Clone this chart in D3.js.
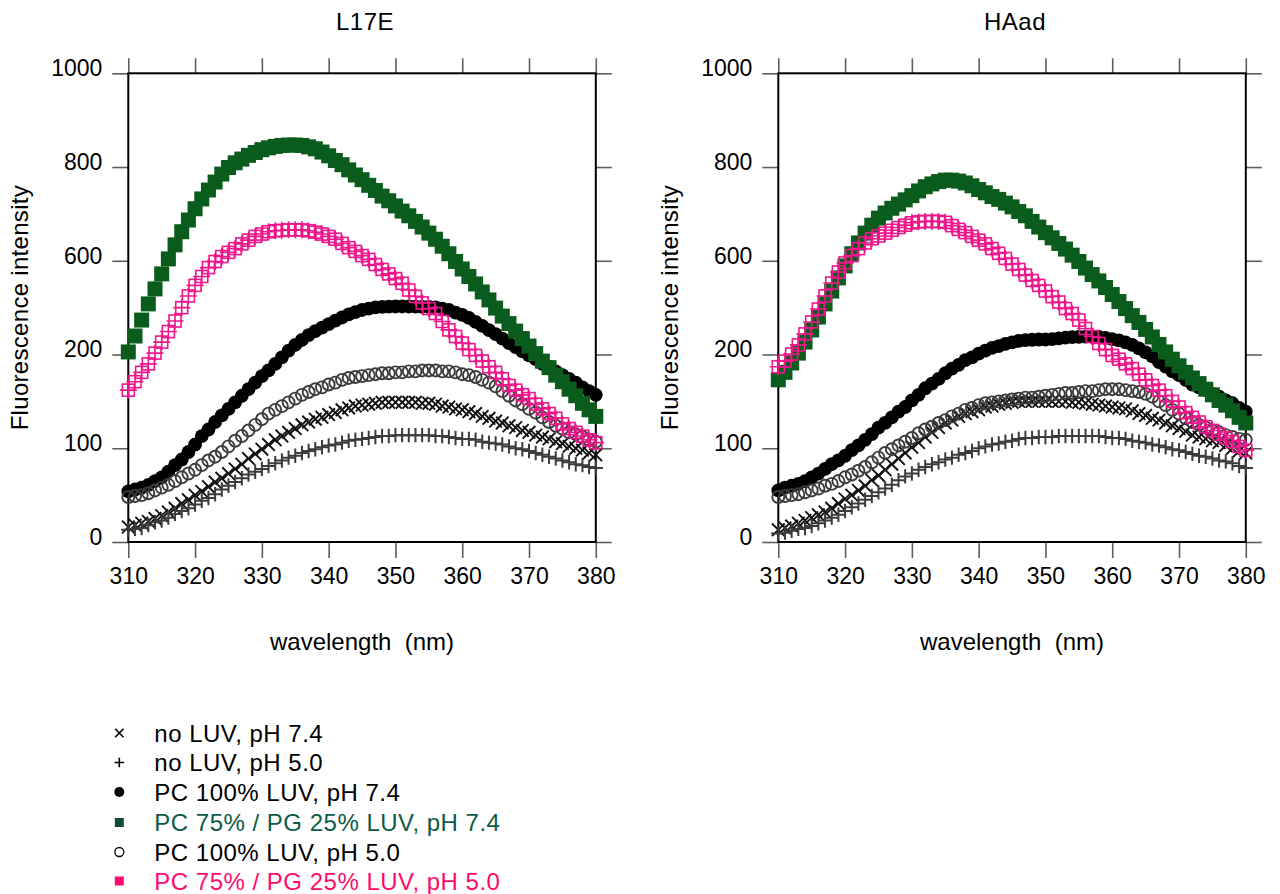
<!DOCTYPE html>
<html><head><meta charset="utf-8">
<script src="https://cdn.jsdelivr.net/npm/d3@7/dist/d3.min.js"></script>
<style>
body{margin:0;background:#fff}
text{font-family:"Liberation Sans",Arial,Helvetica,sans-serif;fill:#000}
</style>
</head><body>
<svg id="c" width="1280" height="894"></svg>
<script>
// ---------- data ----------
const wavelengths = [310,311,312,313,314,315,316,317,318,319,320,321,322,323,324,325,326,327,328,329,330,331,332,333,334,335,336,337,338,339,340,341,342,343,344,345,346,347,348,349,350,351,352,353,354,355,356,357,358,359,360,361,362,363,364,365,366,367,368,369,370,371,372,373,374,375,376,377,378,379,380];
const xTicks = [310,320,330,340,350,360,370,380];
const yTicks = [0,100,200,600,800,1000];
const yTickLabels = ["0","100","200","600","800","1000"];
const panelTitles = ["L17E","HAad"];
const seriesNames = ["no LUV, pH 7.4","no LUV, pH 5.0","PC 100% LUV, pH 7.4","PC 75% / PG 25% LUV, pH 7.4","PC 100% LUV, pH 5.0","PC 75% / PG 25% LUV, pH 5.0"];

// L17E
const l17e_noLUV74 = [16,18,20,22,25,28,32,36,41,45,50,54,59,64,68,73,78,83,89,94,99,104,109,113,117,121,125,128,131,133,136,138,141,143,145,146,147,148,149,149,149,149,149,149,148,148,147,145,144,142,141,139,137,134,132,129,127,124,122,119,117,114,112,110,107,105,102,100,98,95,93];
const l17e_noLUV50 = [13,14,15,18,21,23,26,30,33,36,40,44,47,51,56,60,64,68,72,75,78,81,84,87,90,92,95,97,99,101,103,104,106,108,109,110,111,112,113,113,114,114,114,114,114,114,113,113,112,111,110,110,109,107,106,105,104,102,100,99,97,95,93,91,89,87,85,83,82,80,79];
const l17e_PC74 = [54,56,58,61,65,69,75,82,88,96,104,113,120,128,135,142,149,156,163,170,177,183,190,197,217,241,262,283,300,315,330,345,358,371,381,390,396,401,403,404,405,405,405,404,403,403,401,396,390,379,369,356,339,322,304,287,268,249,232,213,199,195,190,187,182,178,174,170,165,161,157];
const l17e_PG74 = [211,279,347,416,480,544,604,634,662,687,711,732,751,768,785,799,809,817,825,831,837,841,844,846,847,847,846,843,839,832,824,814,805,794,783,773,761,750,738,728,717,706,696,684,672,659,646,631,615,597,565,533,501,467,433,398,364,332,300,268,236,204,193,186,178,171,163,156,148,141,134];
const l17e_PC50 = [48,49,50,52,55,58,61,65,69,73,77,82,87,91,96,102,108,113,119,125,131,137,141,145,149,153,157,160,163,165,168,170,173,175,176,177,178,179,180,180,181,181,182,182,183,183,183,182,182,181,179,178,176,173,170,166,161,156,151,147,142,138,133,128,124,121,117,115,112,109,107];
const l17e_PG50 = [162,171,181,190,206,253,298,343,400,450,495,533,571,597,609,618,626,636,644,652,657,662,664,665,666,666,666,664,661,657,652,646,637,628,620,611,603,584,563,544,524,504,475,448,420,396,375,341,305,277,249,221,199,193,187,181,174,167,162,157,153,147,142,137,132,126,121,117,113,109,106];

// HAad
const haad_noLUV74 = [13,15,17,20,23,26,29,32,36,41,46,50,55,60,66,71,77,83,89,95,101,106,112,117,122,127,130,134,137,139,141,144,145,147,148,149,150,150,150,150,150,150,150,150,149,149,148,147,146,145,144,143,142,140,137,135,132,130,127,124,121,118,114,112,110,108,106,103,100,97,95];
const haad_noLUV50 = [9,10,12,14,15,17,20,23,26,29,33,37,41,45,49,53,57,61,66,70,73,77,80,83,85,88,90,93,95,97,100,102,104,105,107,108,110,111,111,112,112,112,113,113,113,113,113,113,113,112,111,111,110,108,107,106,104,103,101,99,98,96,94,92,91,89,87,86,84,81,79];
const haad_PC74 = [55,58,60,62,65,69,73,78,83,87,92,98,103,109,115,122,127,133,139,144,151,157,164,169,174,180,185,189,194,197,204,217,228,236,245,252,258,261,263,264,264,266,269,272,274,275,276,276,275,271,266,260,252,241,226,209,198,192,187,182,178,173,168,165,162,158,155,151,148,143,139];
const haad_PG74 = [173,181,191,206,253,305,360,416,471,527,578,615,638,659,676,691,702,712,721,730,739,749,758,764,769,772,772,770,766,760,752,745,737,731,723,715,705,696,684,672,660,649,637,625,612,597,569,541,514,486,456,426,396,366,337,307,275,243,211,195,188,181,175,169,163,157,151,146,140,133,127];
const haad_PC50 = [48,49,50,51,53,55,57,60,62,65,69,72,76,80,85,90,95,99,103,107,111,116,120,123,127,130,134,137,141,143,146,148,149,150,151,152,153,154,154,155,156,157,158,159,159,160,161,161,162,163,163,163,162,161,160,158,155,150,146,141,137,132,128,125,122,119,117,114,112,110,109];
const haad_PG50 = [187,193,202,241,288,339,394,450,505,552,591,611,626,638,647,653,659,665,671,676,681,683,684,684,684,682,675,667,660,652,644,636,626,616,605,586,563,539,516,495,471,447,424,396,375,347,311,277,247,221,199,195,190,185,179,173,167,162,156,150,144,138,133,128,123,119,115,111,107,102,98];

// ---------- styles ----------
const styles = [
  {type:"x",    color:"#111111"},
  {type:"plus", color:"#3c3c3c"},
  {type:"dot",  color:"#000000"},
  {type:"sq",   color:"#0a5c1c"},
  {type:"ocirc",color:"#3c3c3c"},
  {type:"psq",  color:"#f0168c"}
];
const legendText = ["#000","#000","#000","#0d5a48","#000","#ff0a6c"];
const legendMark = ["#000","#000","#000","#0f4a3a","#000","#ff0a6c"];

const panels = [
  {title: panelTitles[0], left:128.3, series:[l17e_noLUV74,l17e_noLUV50,l17e_PC74,l17e_PG74,l17e_PC50,l17e_PG50]},
  {title: panelTitles[1], left:778.3, series:[haad_noLUV74,haad_noLUV50,haad_PC74,haad_PG74,haad_PC50,haad_PG50]}
];

const svg = d3.select("#c");
const W = 467.5, yTop = 73.3, yBottom = 542;
const FONT = '"Liberation Sans",Arial,sans-serif';

function drawMarker(g, type, color, legend) {
  if (type === "x") {
    const s = legend ? 4.2 : 6.3;
    g.append("path").attr("d",`M${-s},${-s}L${s},${s}M${-s},${s}L${s},${-s}`)
      .attr("stroke",color).attr("stroke-width",legend?1.6:1.9).attr("fill","none");
  } else if (type === "plus") {
    const t = legend ? 4.8 : 7.2;
    g.append("path").attr("d",`M${-t},0L${t},0M0,${-t}L0,${t}`)
      .attr("stroke",color).attr("stroke-width",legend?1.6:2).attr("fill","none");
  } else if (type === "dot") {
    g.append("circle").attr("r",legend?5:6.9).attr("fill",color);
  } else if (type === "sq") {
    const s = legend ? 4.5 : 7.5;
    g.append("rect").attr("x",-s).attr("y",-s).attr("width",2*s).attr("height",2*s).attr("fill",color);
  } else if (type === "ocirc") {
    g.append("circle").attr("r",legend?4.5:6).attr("fill","none").attr("stroke",color).attr("stroke-width",legend?1.3:1.9);
  } else if (type === "psq") {
    const q = 6, t = 8.5;
    g.append("rect").attr("x",-q).attr("y",-q).attr("width",2*q).attr("height",2*q)
      .attr("fill","none").attr("stroke",color).attr("stroke-width",1.6);
    g.append("path").attr("d",`M${-t},0L${t},0M0,${-t}L0,${t}`)
      .attr("stroke",color).attr("stroke-width",1.6).attr("fill","none");
  }
}

panels.forEach(p => {
  const x = d3.scaleLinear().domain([310,380]).range([p.left, p.left + W]);
  const y = d3.scaleLinear().domain(yTicks).range(yTicks.map((d,i)=> yBottom - i*(yBottom-yTop)/(yTicks.length-1)));
  const g = svg.append("g");

  const tickStyle = sel => {
    sel.select(".domain").remove();
    sel.selectAll(".tick line").attr("stroke","#5e5e5e").attr("stroke-width",1.6);
    sel.selectAll("text").attr("font-size",23).attr("font-family",FONT).attr("fill","#000");
  };
  g.append("g").attr("transform",`translate(0,${yBottom})`)
    .call(d3.axisBottom(x).tickValues(xTicks).tickSize(16).tickPadding(10).tickFormat(d3.format("d")))
    .call(tickStyle);
  g.append("g").attr("transform",`translate(0,${yTop})`)
    .call(d3.axisTop(x).tickValues(xTicks).tickSize(15).tickFormat(""))
    .call(tickStyle);
  const ly = g.append("g").attr("transform",`translate(${p.left},0)`)
    .call(d3.axisLeft(y).tickValues(yTicks).tickSize(16).tickPadding(10).tickFormat((d,i)=>yTickLabels[i]))
    .call(tickStyle);
  ly.selectAll("text").attr("y",-5);
  g.append("g").attr("transform",`translate(${p.left+W},0)`)
    .call(d3.axisRight(y).tickValues(yTicks).tickSize(16).tickFormat(""))
    .call(tickStyle);

  g.append("rect").attr("x",p.left).attr("y",yTop).attr("width",W).attr("height",yBottom-yTop)
    .attr("fill","none").attr("stroke","#000").attr("stroke-width",2);

  p.series.forEach((vals, si) => {
    const st = styles[si];
    const sg = g.append("g");
    vals.forEach((v, i) => {
      const m = sg.append("g").attr("transform",`translate(${x(wavelengths[i])},${y(v)})`);
      drawMarker(m, st.type, st.color, false);
    });
  });

  const cx = p.left + W/2;
  g.append("text").attr("x",cx + 3).attr("y",30).attr("text-anchor","middle")
    .attr("font-size",24).style("letter-spacing","0.5px").text(p.title);
  g.append("text").attr("x",cx).attr("y",650).attr("text-anchor","middle")
    .attr("font-size",24).attr("xml:space","preserve").text("wavelength  (nm)");
  g.append("text").attr("transform",`translate(${p.left-100},${(yTop+yBottom)/2}) rotate(-90)`)
    .attr("text-anchor","middle").attr("font-size",24).style("letter-spacing","0.3px").text("Fluorescence intensity");
});

const lg = svg.append("g");
const rowY = [733,762.5,792,822.5,852,881];
seriesNames.forEach((name, i) => {
  const m = lg.append("g").attr("transform",`translate(119.3,${rowY[i]})`);
  const t = styles[i].type;
  if (t === "x" || t === "plus" || t === "dot" || t === "ocirc") drawMarker(m, t, legendMark[i], true);
  else m.append("rect").attr("x",-4.5).attr("y",-4.5).attr("width",9).attr("height",9).attr("fill",legendMark[i]);
  lg.append("text").attr("x",154.3).attr("y",rowY[i]+8.5).attr("font-size",24)
    .style("letter-spacing","0.5px").style("fill",legendText[i]).text(name);
});
</script>
</body></html>
